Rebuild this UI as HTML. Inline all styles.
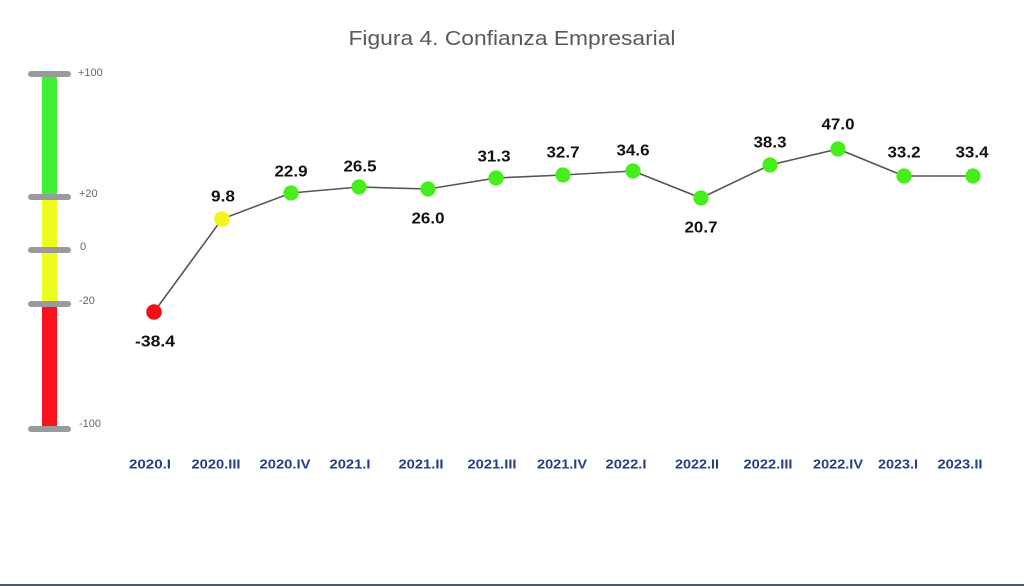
<!DOCTYPE html>
<html><head><meta charset="utf-8"><style>
html,body{margin:0;padding:0;background:#fff;}
svg{display:block;}
</style></head><body>
<svg width="1024" height="586" viewBox="0 0 1024 586" xmlns="http://www.w3.org/2000/svg">
<rect width="1024" height="586" fill="#ffffff"/>
<text x="512" y="45" text-anchor="middle" font-family="Liberation Sans, sans-serif" font-size="20" fill="#595959" textLength="327" lengthAdjust="spacingAndGlyphs">Figura 4. Confianza Empresarial</text>

<!-- scale bar -->
<rect x="42" y="74" width="15" height="123" fill="#3ff033"/>
<rect x="42" y="197" width="15" height="107" fill="#ecfc1e"/>
<rect x="42" y="304" width="15" height="125" fill="#fb1120"/>
<g stroke="#9a9a9a" stroke-width="6" stroke-linecap="round">
<line x1="31" y1="74" x2="68" y2="74"/>
<line x1="31" y1="197" x2="68" y2="197"/>
<line x1="31" y1="250" x2="68" y2="250"/>
<line x1="31" y1="304" x2="68" y2="304"/>
<line x1="31" y1="429" x2="68" y2="429"/>
</g>
<g font-family="Liberation Sans, sans-serif" font-size="11" fill="#666" dominant-baseline="central">
<text x="78" y="73">+100</text>
<text x="79" y="194">+20</text>
<text x="80" y="247">0</text>
<text x="79" y="301">-20</text>
<text x="79" y="424">-100</text>
</g>

<!-- line -->
<polyline fill="none" stroke="#555" stroke-width="1.6" points="154,312 222,219 291,193 359,187 428,189 496,178 563,175 633,171 701,198 770,165 838,149 904,176 973,176"/>
<g>
<circle cx="154" cy="312" r="7.8" fill="#f01018"/>
<circle cx="222" cy="219" r="7.8" fill="#f4f420"/>
<g fill="#46ee1c">
<circle cx="291" cy="193" r="7.6"/>
<circle cx="359" cy="187" r="7.6"/>
<circle cx="428" cy="189" r="7.6"/>
<circle cx="496" cy="178" r="7.6"/>
<circle cx="563" cy="175" r="7.6"/>
<circle cx="633" cy="171" r="7.6"/>
<circle cx="701" cy="198" r="7.6"/>
<circle cx="770" cy="165" r="7.6"/>
<circle cx="838" cy="149" r="7.6"/>
<circle cx="904" cy="176" r="7.6"/>
<circle cx="973" cy="176" r="7.6"/>
</g>
</g>

<!-- data labels -->
<g font-family="Liberation Sans, sans-serif" font-size="16" font-weight="bold" fill="#111" text-anchor="middle" dominant-baseline="central">
<text x="155" y="342" textLength="40" lengthAdjust="spacingAndGlyphs">-38.4</text>
<text x="223" y="197" textLength="24" lengthAdjust="spacingAndGlyphs">9.8</text>
<text x="291" y="172" textLength="33" lengthAdjust="spacingAndGlyphs">22.9</text>
<text x="360" y="167" textLength="33" lengthAdjust="spacingAndGlyphs">26.5</text>
<text x="428" y="219" textLength="33" lengthAdjust="spacingAndGlyphs">26.0</text>
<text x="494" y="157" textLength="33" lengthAdjust="spacingAndGlyphs">31.3</text>
<text x="563" y="153" textLength="33" lengthAdjust="spacingAndGlyphs">32.7</text>
<text x="633" y="151" textLength="33" lengthAdjust="spacingAndGlyphs">34.6</text>
<text x="701" y="228" textLength="33" lengthAdjust="spacingAndGlyphs">20.7</text>
<text x="770" y="143" textLength="33" lengthAdjust="spacingAndGlyphs">38.3</text>
<text x="838" y="125" textLength="33" lengthAdjust="spacingAndGlyphs">47.0</text>
<text x="904" y="153" textLength="33" lengthAdjust="spacingAndGlyphs">33.2</text>
<text x="972" y="153" textLength="33" lengthAdjust="spacingAndGlyphs">33.4</text>
</g>

<!-- x labels -->
<g font-family="Liberation Sans, sans-serif" font-size="13" font-weight="bold" fill="#253e8c" text-anchor="middle" dominant-baseline="central">
<text x="150" y="464" textLength="42" lengthAdjust="spacingAndGlyphs">2020.I</text>
<text x="216" y="464" textLength="49" lengthAdjust="spacingAndGlyphs">2020.III</text>
<text x="285" y="464" textLength="51" lengthAdjust="spacingAndGlyphs">2020.IV</text>
<text x="350" y="464" textLength="41" lengthAdjust="spacingAndGlyphs">2021.I</text>
<text x="421" y="464" textLength="45" lengthAdjust="spacingAndGlyphs">2021.II</text>
<text x="492" y="464" textLength="49" lengthAdjust="spacingAndGlyphs">2021.III</text>
<text x="562" y="464" textLength="50" lengthAdjust="spacingAndGlyphs">2021.IV</text>
<text x="626" y="464" textLength="41" lengthAdjust="spacingAndGlyphs">2022.I</text>
<text x="697" y="464" textLength="44" lengthAdjust="spacingAndGlyphs">2022.II</text>
<text x="768" y="464" textLength="49" lengthAdjust="spacingAndGlyphs">2022.III</text>
<text x="838" y="464" textLength="50" lengthAdjust="spacingAndGlyphs">2022.IV</text>
<text x="898" y="464" textLength="40" lengthAdjust="spacingAndGlyphs">2023.I</text>
<text x="960" y="464" textLength="45" lengthAdjust="spacingAndGlyphs">2023.II</text>
</g>

<rect x="0" y="584" width="1024" height="2" fill="#4a5a66"/>
</svg>
</body></html>
